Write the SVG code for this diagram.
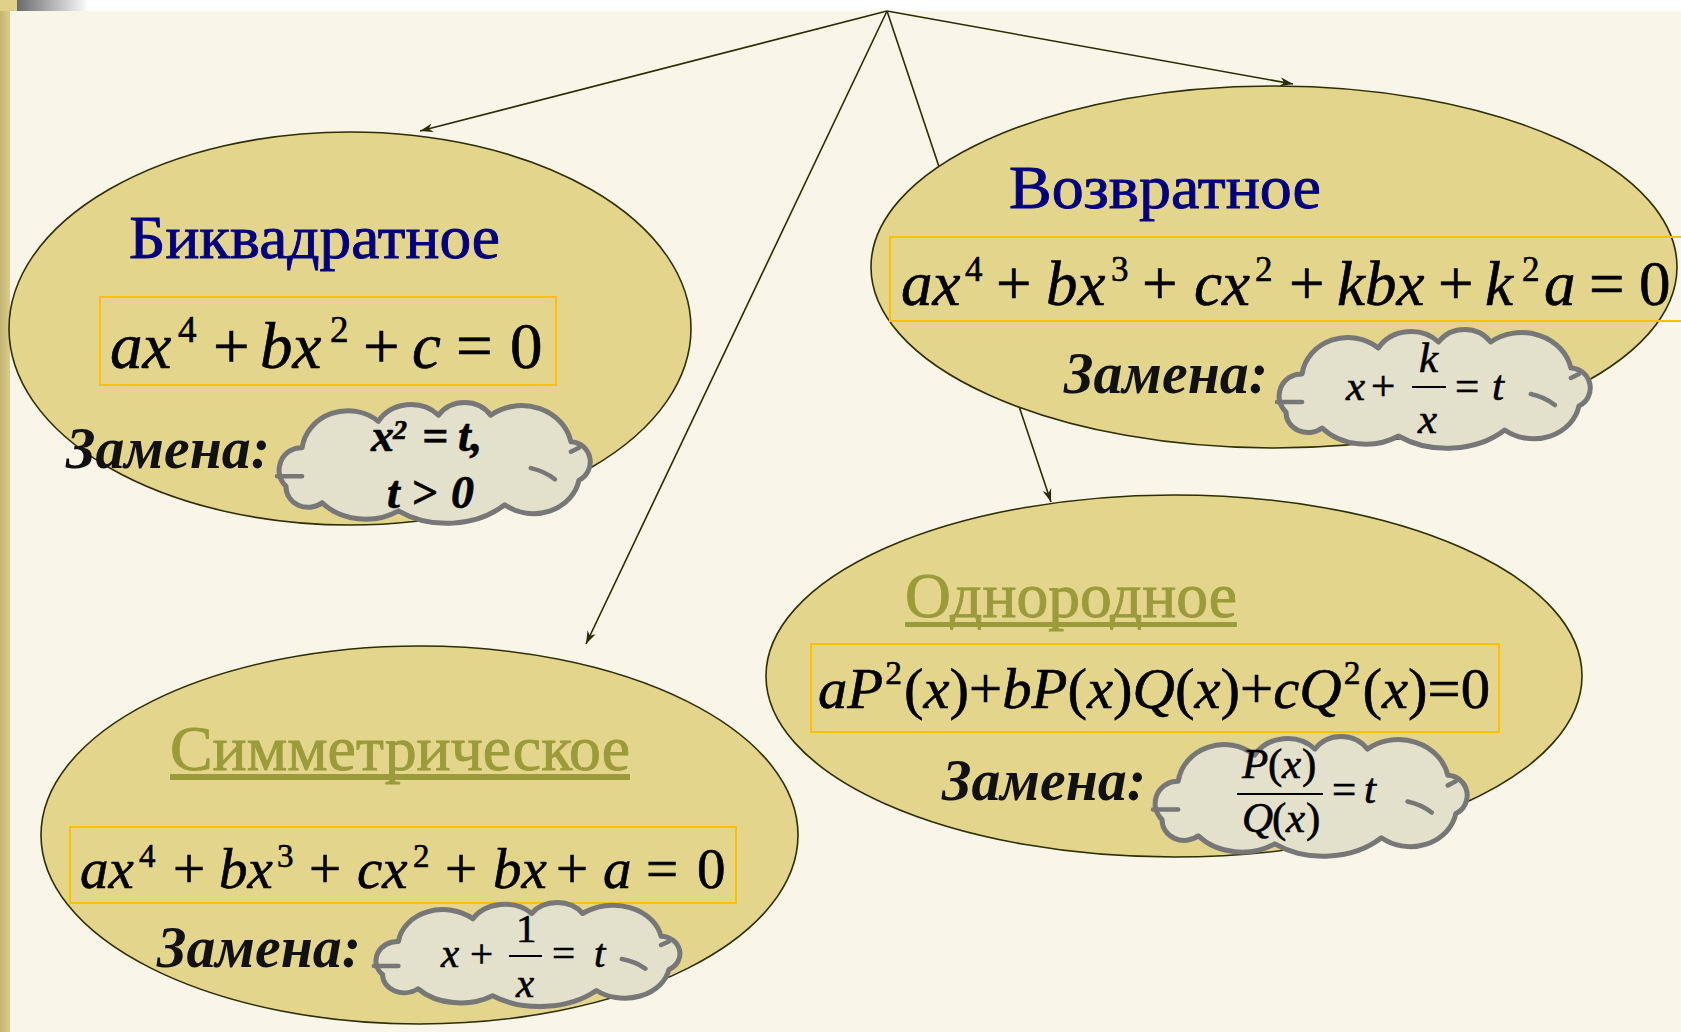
<svg xmlns="http://www.w3.org/2000/svg" xmlns:xlink="http://www.w3.org/1999/xlink" width="1681" height="1032" viewBox="0 0 1681 1032">
<style>
.ell{fill:#E3D58B;stroke:#2E2E00;stroke-width:1.6}
.box{fill:none;stroke:#FFC000;stroke-width:2}
.f{font-family:"Liberation Serif","Times New Roman",serif}
.title{font-size:62px;fill:#000080;stroke:#000080;stroke-width:0.9}
.otitle{font-size:63px;fill:#9B9B3B;stroke:#9B9B3B;stroke-width:0.9}
.uline{fill:#9B9B3B}
.m{fill:#000;stroke:#000;stroke-width:0.6}
.i{font-style:italic}
.zam{font-weight:bold;font-style:italic;font-size:59px;fill:#111}
.bar{stroke:#000;stroke-width:1.8}
.conn{fill:none;stroke:#2B2B00;stroke-width:1.6}
</style>
<defs>
<linearGradient id="gTop" x1="0" y1="0" x2="1" y2="0">
<stop offset="0" stop-color="#6A6A6A"/><stop offset="1" stop-color="#FFFFFF"/>
</linearGradient>
<linearGradient id="gLeft" x1="0" y1="0" x2="1" y2="0">
<stop offset="0" stop-color="#C3B472"/><stop offset="1" stop-color="#DCCC8A"/>
</linearGradient>
<marker id="arr" markerWidth="14" markerHeight="10" refX="13" refY="5" orient="auto" markerUnits="userSpaceOnUse">
<path d="M0,0.5 L13,5 L0,9.5 L4,5 Z" fill="#2B2B00"/>
</marker>
<g id="cloud">
<path vector-effect="non-scaling-stroke" fill="#E3E0CB" stroke="#777777" stroke-width="5" stroke-linejoin="round" d="M14,82 A22,22 0 0 1 30,44 A46,42 0 0 1 106,18 A38,34 0 0 1 166,12 A32,30 0 0 1 218,12 A50,44 0 0 1 298,38 A20,20 0 0 1 306,76 A46,40 0 0 1 232,100 A80,60 0 0 1 126,106 A56,44 0 0 1 50,98 A22,20 0 0 1 14,82 Z"/>
<path vector-effect="non-scaling-stroke" fill="none" stroke="#777777" stroke-width="4.5" stroke-linecap="round" d="M5,72 L30,72 M258,64 Q272,67 282,75 M298,48 L306,44"/>
</g>
</defs>

<rect x="0" y="0" width="1681" height="1032" fill="#FFFFFF"/>
<rect x="10" y="11" width="1671" height="1021" fill="#F9F6E9"/>
<rect x="0" y="0" width="10" height="1032" fill="url(#gLeft)"/>
<rect x="0" y="0" width="17" height="11" fill="#E1D08A"/>
<rect x="17" y="0" width="72" height="11" fill="url(#gTop)"/>

<g id="connectors">
<path class="conn" d="M887,11 L420,131" marker-end="url(#arr)"/>
<path class="conn" d="M887,11 L1293,84" marker-end="url(#arr)"/>
<path class="conn" d="M887,11 L586,644" marker-end="url(#arr)"/>
<path class="conn" d="M887,11 L1051,502" marker-end="url(#arr)"/>
</g>

<g id="node-bikvadratnoe">
<ellipse class="ell" cx="350" cy="328.5" rx="341" ry="196.5"/>
<text class="f title" x="129" y="258" textLength="371" lengthAdjust="spacingAndGlyphs">Биквадратное</text>
<rect class="box" x="100" y="297" width="456" height="88"/>
<text class="f m" font-size="65">
<tspan x="110" y="368" class="i">ax</tspan><tspan x="178" y="342" font-size="37">4</tspan><tspan x="213" y="368">+</tspan><tspan x="260" y="368" class="i">bx</tspan><tspan x="330" y="342" font-size="37">2</tspan><tspan x="363" y="368">+</tspan><tspan x="412" y="368" class="i">c</tspan><tspan x="456" y="368">=</tspan><tspan x="510" y="368">0</tspan>
</text>
<text class="f zam" x="66" y="468" textLength="204" lengthAdjust="spacingAndGlyphs">Замена:</text>
<use xlink:href="#cloud" transform="translate(272,403) scale(1.003,1.017)"/>
<text class="f m" font-weight="bold" font-style="italic" font-size="46" stroke-width="0">
<tspan x="371" y="451">x</tspan><tspan x="393" y="439" font-size="28">2</tspan><tspan x="422" y="451">=</tspan><tspan x="458" y="451">t,</tspan>
<tspan x="387" y="508">t</tspan><tspan x="411" y="508">&gt;</tspan><tspan x="451" y="508">0</tspan>
</text>
</g>

<g id="node-vozvratnoe">
<ellipse class="ell" cx="1274" cy="267" rx="403" ry="181"/>
<text class="f title" x="1009" y="208" textLength="312" lengthAdjust="spacingAndGlyphs">Возвратное</text>
<rect class="box" x="890" y="237" width="800" height="84"/>
<text class="f m" font-size="63">
<tspan x="901" y="305" class="i">ax</tspan><tspan x="965" y="281" font-size="35">4</tspan><tspan x="996" y="305">+</tspan><tspan x="1046" y="305" class="i">bx</tspan><tspan x="1111" y="281" font-size="35">3</tspan><tspan x="1142" y="305">+</tspan><tspan x="1194" y="305" class="i">cx</tspan><tspan x="1255" y="281" font-size="35">2</tspan><tspan x="1289" y="305">+</tspan><tspan x="1337" y="305" class="i">kbx</tspan><tspan x="1438" y="305">+</tspan><tspan x="1485" y="305" class="i">k</tspan><tspan x="1522" y="281" font-size="35">2</tspan><tspan x="1544" y="305" class="i">a</tspan><tspan x="1589" y="305">=</tspan><tspan x="1639" y="305">0</tspan>
</text>
<text class="f zam" x="1064" y="393" textLength="204" lengthAdjust="spacingAndGlyphs">Замена:</text>
<use xlink:href="#cloud" transform="translate(1272,330) scale(1.003,1)"/>
<text class="f m" font-size="43" stroke-width="0.3">
<tspan x="1346" y="400" class="i">x</tspan><tspan x="1371" y="400">+</tspan><tspan x="1419" y="372" class="i">k</tspan><tspan x="1418" y="433" class="i">x</tspan><tspan x="1455" y="400">=</tspan><tspan x="1492" y="400" class="i">t</tspan>
</text>
<line class="bar" x1="1412" y1="387" x2="1446" y2="387"/>
</g>

<g id="node-odnorodnoe">
<ellipse class="ell" cx="1174" cy="676" rx="408" ry="181"/>
<text class="f otitle" x="905" y="617" textLength="332" lengthAdjust="spacingAndGlyphs">Однородное</text>
<rect class="uline" x="905" y="622" width="332" height="5"/>
<rect class="box" x="811" y="644" width="688" height="88"/>
<text class="f m" x="818" y="708" font-size="58" textLength="672" lengthAdjust="spacingAndGlyphs"><tspan class="i">aP</tspan><tspan font-size="33" dx="2" dy="-24">2</tspan><tspan dx="2" dy="24">(</tspan><tspan class="i">x</tspan>)+<tspan class="i">bP</tspan>(<tspan class="i">x</tspan>)<tspan class="i">Q</tspan>(<tspan class="i">x</tspan>)+<tspan class="i">cQ</tspan><tspan font-size="33" dx="2" dy="-24">2</tspan><tspan dx="2" dy="24">(</tspan><tspan class="i">x</tspan>)=0</text>
<text class="f zam" x="942" y="800" textLength="204" lengthAdjust="spacingAndGlyphs">Замена:</text>
<use xlink:href="#cloud" transform="translate(1148,737) scale(1.006,1.008)"/>
<text class="f m" font-size="43" stroke-width="0.3">
<tspan x="1242" y="778" class="i">P</tspan><tspan x="1268" y="778">(</tspan><tspan x="1282" y="778" class="i">x</tspan><tspan x="1302" y="778">)</tspan>
<tspan x="1242" y="832" class="i">Q</tspan><tspan x="1272" y="832">(</tspan><tspan x="1286" y="832" class="i">x</tspan><tspan x="1306" y="832">)</tspan>
<tspan x="1332" y="803">=</tspan><tspan x="1364" y="803" class="i">t</tspan>
</text>
<line class="bar" x1="1237" y1="794" x2="1323" y2="794"/>
</g>

<g id="node-simmetricheskoe">
<ellipse class="ell" cx="419.5" cy="835" rx="378.5" ry="189"/>
<text class="f otitle" x="170" y="770" textLength="460" lengthAdjust="spacingAndGlyphs">Симметрическое</text>
<rect class="uline" x="170" y="774" width="460" height="6"/>
<rect class="box" x="70" y="827" width="666" height="76"/>
<text class="f m" font-size="57">
<tspan x="80" y="888" class="i">ax</tspan><tspan x="139" y="867" font-size="33">4</tspan><tspan x="173" y="888">+</tspan><tspan x="219" y="888" class="i">bx</tspan><tspan x="277" y="867" font-size="33">3</tspan><tspan x="309" y="888">+</tspan><tspan x="357" y="888" class="i">cx</tspan><tspan x="413" y="867" font-size="33">2</tspan><tspan x="445" y="888">+</tspan><tspan x="493" y="888" class="i">bx</tspan><tspan x="556" y="888">+</tspan><tspan x="603" y="888" class="i">a</tspan><tspan x="646" y="888">=</tspan><tspan x="697" y="888">0</tspan>
</text>
<text class="f zam" x="157" y="967" textLength="204" lengthAdjust="spacingAndGlyphs">Замена:</text>
<use xlink:href="#cloud" transform="translate(369,903) scale(0.98,0.875)"/>
<text class="f m" font-size="41" stroke-width="0.3">
<tspan x="441" y="967" class="i">x</tspan><tspan x="470" y="967">+</tspan><tspan x="516" y="942">1</tspan><tspan x="516" y="997" class="i">x</tspan><tspan x="552" y="967">=</tspan><tspan x="594" y="967" class="i">t</tspan>
</text>
<line class="bar" x1="509" y1="956" x2="542" y2="956"/>
</g>
</svg>
